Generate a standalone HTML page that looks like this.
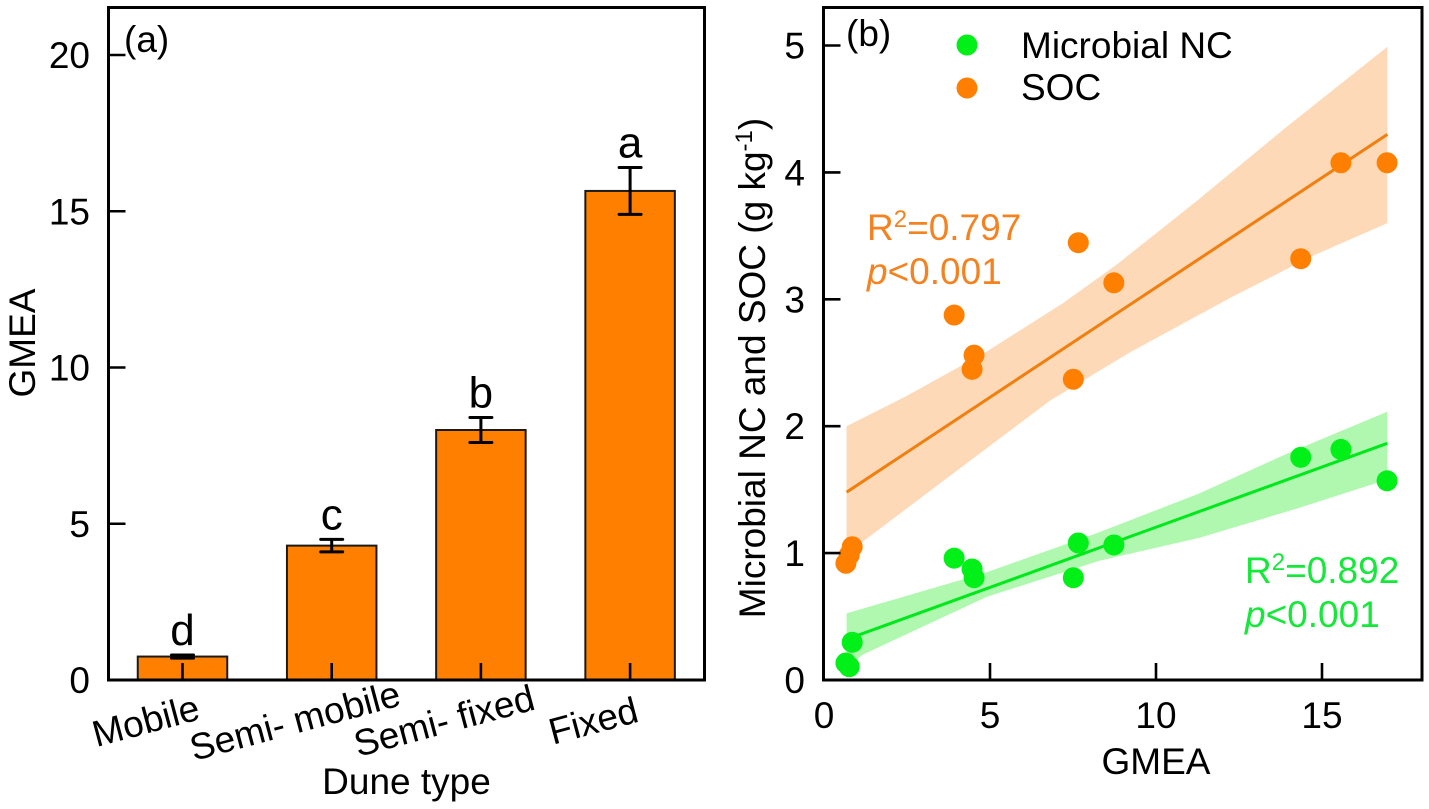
<!DOCTYPE html>
<html>
<head>
<meta charset="utf-8">
<title>GMEA by dune type and regression</title>
<style>
html,body{margin:0;padding:0;background:#fff;}
svg{display:block;}
text{font-family:"Liberation Sans",sans-serif;fill:#000;}
</style>
</head>
<body>
<svg id="chart" xmlns="http://www.w3.org/2000/svg" width="1429" height="809" viewBox="0 0 1429 809">
  <g id="panelA"></g>
  <g id="panelB"></g>
  <text x="124" y="52" font-size="37">(a)</text>
  <text x="846" y="46" font-size="37">(b)</text>
  <text transform="translate(35,343) rotate(-90)" text-anchor="middle" font-size="37">GMEA</text>
  <text x="406.5" y="794" text-anchor="middle" font-size="37">Dune type</text>
  <text x="1156" y="774" text-anchor="middle" font-size="37">GMEA</text>
  <text transform="translate(765,368) rotate(-90)" text-anchor="middle" font-size="37">Microbial NC and SOC (g kg<tspan dy="-13" font-size="24">-1</tspan><tspan dy="13">)</tspan></text>
  <circle cx="967" cy="45" r="10.5" fill="#00f018"></circle>
  <circle cx="967" cy="88" r="10.5" fill="#ff8000"></circle>
  <text x="1021" y="58" font-size="37">Microbial NC</text>
  <text x="1021" y="100" font-size="37">SOC</text>
  <text x="867" y="240" font-size="37" style="fill:#f58220">R<tspan dy="-13" font-size="24">2</tspan><tspan dy="13">=0.797</tspan></text>
  <text x="867" y="284" font-size="37" style="fill:#f58220"><tspan font-style="italic">p</tspan>&lt;0.001</text>
  <text x="1245" y="583" font-size="37" style="fill:#14e838">R<tspan dy="-13" font-size="24">2</tspan><tspan dy="13">=0.892</tspan></text>
  <text x="1245" y="627" font-size="37" style="fill:#14e838"><tspan font-style="italic">p</tspan>&lt;0.001</text>
</svg>
<script>
// Panel (a) data
var duneTypes = ["Mobile", "Semi- mobile", "Semi- fixed", "Fixed"];
var gmeaMeans = [0.75, 4.3, 8.0, 15.65];
var gmeaErrors = [0.05, 0.2, 0.4, 0.75];
var sigLetters = ["d", "c", "b", "a"];
var aYTicks = [0, 5, 10, 15, 20];

// Panel (b) data
var gmeaValues = [0.66, 0.76, 0.85, 3.92, 4.46, 4.52, 7.51, 7.66, 8.73, 14.36, 15.57, 16.96];
var ncValues = [0.134, 0.105, 0.297, 0.96, 0.875, 0.806, 0.806, 1.08, 1.064, 1.755, 1.817, 1.57];
var socValues = [0.92, 0.985, 1.05, 2.876, 2.448, 2.56, 2.37, 3.446, 3.13, 3.32, 4.076, 4.076];
var fitRange = [0.68, 16.97];
var ncFit = [0.32, 1.865];
var socFit = [1.48, 4.30];
var ncBandUpperX = [0.68, 4.8, 8.2, 11.3, 14, 16.97];
var ncBandUpper = [0.525, 0.84, 1.155, 1.47, 1.79, 2.115];
var ncBandLowerX = [0.68, 1.17, 4.9, 8.3, 11.3, 14.3, 16.97];
var ncBandLower = [0.10, 0.20, 0.655, 0.94, 1.12, 1.355, 1.58];
var socBandX = [0.68, 2.5, 4.85, 7.2, 8.8, 11.3, 13.94, 16.97];
var socBandUpper = [2.00, 2.24, 2.58, 2.97, 3.27, 3.79, 4.36, 4.99];
var socBandLowerX = [0.68, 1.17, 3.7, 6.8, 9.2, 12.3, 14.7, 16.97];
var socBandLower = [0.98, 1.09, 1.59, 2.20, 2.58, 3.02, 3.34, 3.60];
var bXTicks = [0, 5, 10, 15];
var bYTicks = [0, 1, 2, 3, 4, 5];

var NS = "http://www.w3.org/2000/svg";
function make(parent, tag, attrs, txt) {
  var el = document.createElementNS(NS, tag);
  for (var k in attrs) el.setAttribute(k, attrs[k]);
  if (txt !== undefined) el.textContent = txt;
  parent.appendChild(el);
  return el;
}
var A = {left: 108.5, right: 704.5, top: 7.5, bottom: 680};
var B = {left: 823.5, right: 1422, top: 7.5, bottom: 680};
function ayScale(v) { return 680 - v * 31.25; }
function axScale(i) { return 182.5 + i * 149.2; }
function bxScale(v) { return 824 + v * 33.2; }
function byScale(v) { return 680 - v * 126.9; }
var pa = document.getElementById("panelA");
var pb = document.getElementById("panelB");

// Panel A bars
duneTypes.forEach(function (name, i) {
  var x = axScale(i), top = ayScale(gmeaMeans[i]), w = 89.5;
  var bar = make(pa, "rect", {x: x - w / 2, y: top, width: w, height: 680 - top, fill: "#ff8000", stroke: "#1a1a1a", "stroke-width": 2});
  
  
  var hi = ayScale(gmeaMeans[i] + gmeaErrors[i]), lo = ayScale(gmeaMeans[i] - gmeaErrors[i]);
  var err = make(pa, "path", {d: "M" + x + " " + lo + "V" + hi + "M" + (x - 11) + " " + hi + "H" + (x + 11) + "M" + (x - 11) + " " + lo + "H" + (x + 11), stroke: "#000", "stroke-width": 3, "stroke-linecap": "round", fill: "none"});
  
  
  var letter = make(pa, "text", {x: x, y: hi - 10, "text-anchor": "middle", "font-size": 44}, sigLetters[i]);
  
  
  var tick = make(pa, "line", {x1: x, x2: x, y1: 680, y2: 663, stroke: "#000", "stroke-width": 2.6});
  
  
  var lab = make(pa, "text", {transform: "translate(" + (x - 33.5) + ",733) rotate(-15)", "text-anchor": "middle", "font-size": 37}, name);
  
  
});
aYTicks.forEach(function (v) {
  var y = ayScale(v);
  if (v > 0) {
    var t = make(pa, "line", {x1: A.left, x2: A.left + 17, y1: y, y2: y, stroke: "#000", "stroke-width": 2.6});
    
    
  }
  var l = make(pa, "text", {x: 90, y: y + 13, "text-anchor": "end", "font-size": 37}, String(v));
  
  
});
var frameA = make(pa, "rect", {x: A.left, y: A.top, width: A.right - A.left, height: A.bottom - A.top, fill: "none", stroke: "#000", "stroke-width": 3});



// Panel B bands, lines, points
function bandPath(xUp, up, xLow, low) {
  var d = "";
  xUp.forEach(function (v, i) { d += (i ? "L" : "M") + bxScale(v) + " " + byScale(up[i]); });
  for (var i = xLow.length - 1; i >= 0; i--) d += "L" + bxScale(xLow[i]) + " " + byScale(low[i]);
  return d + "Z";
}
var socBand = make(pb, "path", {d: bandPath(socBandX, socBandUpper, socBandLowerX, socBandLower), fill: "#fdd9b8"});


var ncBand = make(pb, "path", {d: bandPath(ncBandUpperX, ncBandUpper, ncBandLowerX, ncBandLower), fill: "#b0f8b0"});


var socLine = make(pb, "line", {x1: bxScale(fitRange[0]), x2: bxScale(fitRange[1]), y1: byScale(socFit[0]), y2: byScale(socFit[1]), stroke: "#f07f10", "stroke-width": 3});


var ncLine = make(pb, "line", {x1: bxScale(fitRange[0]), x2: bxScale(fitRange[1]), y1: byScale(ncFit[0]), y2: byScale(ncFit[1]), stroke: "#00e81c", "stroke-width": 3});


gmeaValues.forEach(function (g, i) {
  var s = make(pb, "circle", {cx: bxScale(g), cy: byScale(socValues[i]), r: 10.5, fill: "#ff8000"});
  
  
  var n = make(pb, "circle", {cx: bxScale(g), cy: byScale(ncValues[i]), r: 10.5, fill: "#00f018"});
  
  
});
bXTicks.forEach(function (v) {
  var x = bxScale(v);
  if (v > 0) {
    var t = make(pb, "line", {x1: x, x2: x, y1: 680, y2: 663, stroke: "#000", "stroke-width": 2.6});
    
    
  }
  var l = make(pb, "text", {x: x, y: 728, "text-anchor": "middle", "font-size": 37}, String(v));
  
  
});
bYTicks.forEach(function (v) {
  var y = byScale(v);
  if (v > 0) {
    var t = make(pb, "line", {x1: B.left, x2: B.left + 17, y1: y, y2: y, stroke: "#000", "stroke-width": 2.6});
    
    
  }
  var l = make(pb, "text", {x: 805, y: y + 13, "text-anchor": "end", "font-size": 37}, String(v));
  
  
});
var frameB = make(pb, "rect", {x: B.left, y: B.top, width: B.right - B.left, height: B.bottom - B.top, fill: "none", stroke: "#000", "stroke-width": 3});


</script>
</body>
</html>
